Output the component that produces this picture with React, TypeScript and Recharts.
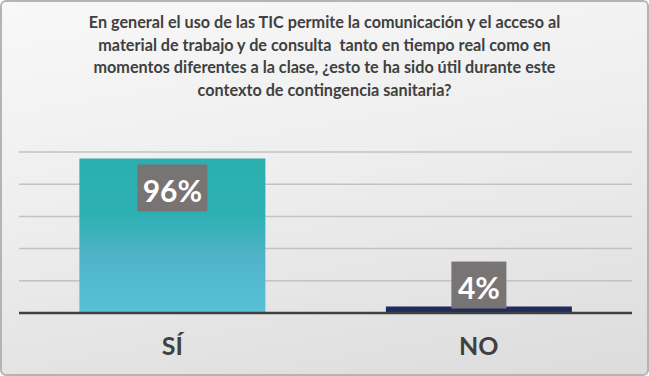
import React from "react";
import { BarChart, Bar, XAxis, YAxis, CartesianGrid, Cell, LabelList } from "recharts";

const categories = ["SÍ", "NO"];
const percentages = [96, 4];
const yTicks = [0, 20, 40, 60, 80, 100];
const titleLines = [
  "En general el uso de las TIC permite la comunicación y el acceso al",
  "material de trabajo y de consulta  tanto en tiempo real como en",
  "momentos diferentes a la clase, ¿esto te ha sido útil durante este",
  "contexto de contingencia sanitaria?",
];

const data = categories.map((name, i) => ({ name, value: percentages[i] }));
const barFills = ["url(#siFill)", "#1f2b5c"];
const FONT = "Lato, 'Open Sans', sans-serif";

const ValueBox = (props: any) => {
  const { x, y, width, height, value } = props;
  const text = `${value}%`;
  const digits = String(value).length;
  const boxW = digits * 15 + 22 + 18;
  const boxH = 47;
  const cx = x + width / 2;
  const top = height > boxH + 12 ? y + 6 : y + 2 - boxH;
  return (
    <g>
      <rect x={cx - boxW / 2} y={top} width={boxW} height={boxH} fill="#787474" />
      <text
        x={cx}
        y={top + boxH / 2 + 2}
        textAnchor="middle"
        dominantBaseline="central"
        fill="#ffffff"
        fontFamily={FONT}
        fontWeight={700}
        fontSize={30}
      >
        {text}
      </text>
    </g>
  );
};

const CategoryTick = ({ x, y, payload }: any) => (
  <text
    x={x}
    y={y + 34}
    textAnchor="middle"
    fill="#404040"
    fontFamily={FONT}
    fontWeight={700}
    fontSize={25}
  >
    {payload.value}
  </text>
);

export default function App() {
  return (
    <div
      style={{
        position: "absolute",
        left: 0,
        top: 0,
        width: 649,
        height: 376,
        boxSizing: "border-box",
        border: "2px solid #b4b4b4",
        borderRadius: 6,
        background: "linear-gradient(170deg, #f8f8f8 0%, #eeeeee 45%, #dcdcdc 100%)",
        overflow: "hidden",
      }}
    >
      <div
        style={{
          position: "absolute",
          left: 0,
          top: 9,
          width: 645,
          textAlign: "center",
          fontFamily: FONT,
          fontWeight: 700,
          fontSize: 16.2,
          lineHeight: "22.5px",
          color: "#404040",
          whiteSpace: "pre",
        }}
      >
        {titleLines.map((l) => (
          <div key={l}>{l}</div>
        ))}
      </div>
      <div style={{ position: "absolute", left: -2, top: -2 }}>
        <BarChart
          width={649}
          height={376}
          data={data}
          margin={{ top: 152, right: 17, bottom: 23, left: 19 }}
          barCategoryGap="19.7%"
        >
          <defs>
            <linearGradient id="siFill" x1="0" y1="0" x2="0" y2="1">
              <stop offset="0%" stopColor="#2aafae" />
              <stop offset="36%" stopColor="#2eb0b2" />
              <stop offset="62%" stopColor="#4fb3c8" />
              <stop offset="100%" stopColor="#58c1d5" />
            </linearGradient>
          </defs>
          <CartesianGrid vertical={false} stroke="#c2c2c2" strokeWidth={1.5} />
          <YAxis hide domain={[0, 100]} ticks={yTicks} />
          <XAxis
            dataKey="name"
            height={40}
            axisLine={{ stroke: "#404040", strokeWidth: 2.5 }}
            tickLine={false}
            tick={<CategoryTick />}
          />
          <Bar dataKey="value" isAnimationActive={false}>
            {data.map((d, i) => (
              <Cell key={d.name} fill={barFills[i]} />
            ))}
            <LabelList dataKey="value" content={<ValueBox />} />
          </Bar>
        </BarChart>
      </div>
    </div>
  );
}
